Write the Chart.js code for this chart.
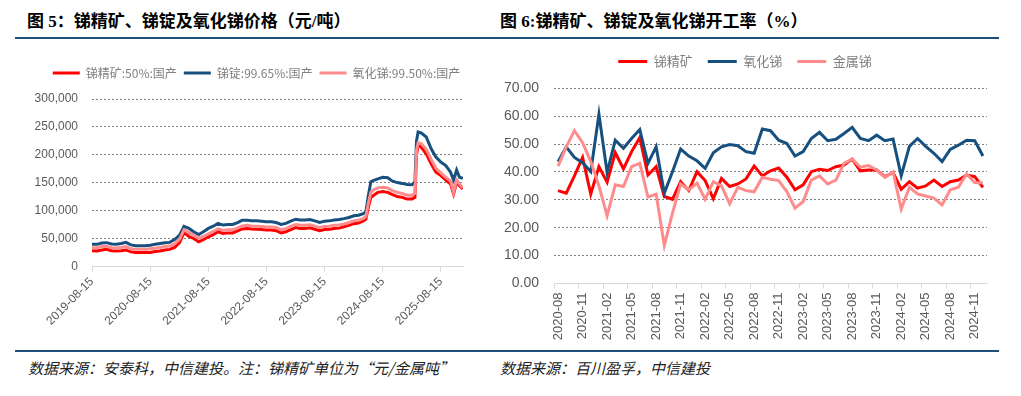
<!DOCTYPE html>
<html>
<head>
<meta charset="utf-8">
<script src="https://cdn.jsdelivr.net/npm/chart.js@4.4.1/dist/chart.umd.min.js"></script>
<style>
  body { margin: 0; width: 1021px; height: 396px; background: #fff; position: relative; overflow: hidden; font-family: "Noto Sans CJK SC", sans-serif; }
  .title { position: absolute; top: 12px; line-height: 20px; font-size: 17px; font-weight: bold; color: #000; font-family: "Liberation Serif", "Noto Sans CJK SC", serif; white-space: nowrap; }
  .rule { position: absolute; left: 15px; width: 984px; height: 2px; background: #1f4e79; }
  .src { position: absolute; top: 358px; line-height: 20px; font-size: 15px; font-style: italic; color: #222; white-space: nowrap; }
  canvas { position: absolute; top: 40px; }
</style>
</head>
<body>
<div class="title" style="left:27px">图 5：锑精矿、锑锭及氧化锑价格（元/吨）</div>
<div class="title" style="left:500px">图 6:锑精矿、锑锭及氧化锑开工率（%）</div>
<div class="rule" style="top:37px"></div>
<div class="rule" style="top:350px"></div>
<canvas id="price" width="485" height="310" style="left:0px"></canvas>
<canvas id="rate" width="515" height="310" style="left:495px"></canvas>
<div class="src" style="left:28px">数据来源：安泰科，中信建投。注：锑精矿单位为“元/金属吨”</div>
<div class="src" style="left:500px">数据来源：百川盈孚，中信建投</div>

<script>
// 图5 价格（元/吨）
const priceDates = [
  '2019-08-15','2019-09-15','2019-10-15','2019-11-15','2019-12-15','2020-01-15','2020-02-15','2020-03-15',
  '2020-04-15','2020-05-15','2020-06-15','2020-07-15','2020-08-15','2020-09-15','2020-10-15','2020-11-15',
  '2020-12-15','2021-01-15','2021-02-15','2021-03-15','2021-04-15','2021-05-15','2021-06-15','2021-07-15',
  '2021-08-15','2021-09-15','2021-10-15','2021-11-15','2021-12-15','2022-01-15','2022-02-15','2022-03-15',
  '2022-04-15','2022-05-15','2022-06-15','2022-07-15','2022-08-15','2022-09-15','2022-10-15','2022-11-15',
  '2022-12-15','2023-01-15','2023-02-15','2023-03-15','2023-04-15','2023-05-15','2023-06-15','2023-07-15',
  '2023-08-15','2023-09-15','2023-10-15','2023-11-15','2023-12-15','2024-01-15','2024-02-15','2024-03-15',
  '2024-04-15','2024-05-01','2024-05-15','2024-06-01','2024-06-15','2024-07-15','2024-08-15','2024-09-15',
  '2024-10-15','2024-11-15','2024-12-15','2025-01-15','2025-02-15','2025-03-05','2025-03-15','2025-03-25',
  '2025-04-15','2025-05-15','2025-06-15','2025-07-15','2025-08-15','2025-09-15','2025-10-15','2025-11-03',
  '2025-11-22','2025-12-10','2025-12-31'
];
const priceConc = [
  28500,28000,30000,31000,28500,28000,28500,30000,26500,25500,25500,25500,25500,27000,28000,30000,
  31000,34500,43000,61000,54000,50500,44500,48500,53500,57500,62500,59500,60500,60500,64000,67500,
  68500,67500,67000,66500,65500,65500,64500,60500,62500,66500,70000,68500,68500,69500,67000,64500,
  66500,67000,68500,69000,71500,74000,77000,78000,82000,85000,105000,124000,127000,133000,134500,133000,
  129000,125500,124000,121000,121000,124000,200000,218000,213000,202000,184000,169000,163000,155000,148000,130000,
  151000,145000,139000
];
const priceIngot = [
  40000,40000,42500,43000,40500,40000,41500,43500,39000,37500,37500,37500,38500,40000,41500,43000,
  43500,48500,56500,72000,68500,62500,57500,62500,68500,72500,77500,74500,75500,75500,79000,83000,
  83000,82000,82000,81500,80500,80500,79000,75500,77500,81500,85000,83500,83500,84500,82000,79000,
  81500,82000,83500,84500,86000,88000,91000,92000,95000,98000,125000,152000,154000,157000,160000,159000,
  153000,150500,149000,147000,146500,152000,225000,241000,239000,232000,211000,196000,187000,181000,169000,155000,
  173000,160000,158000
];
const priceOxide = [
  34000,34000,36000,36500,34000,33500,34500,36000,32000,31000,31000,31000,32000,33000,34500,36000,
  37000,41000,49000,66000,61000,56000,51000,54000,59000,63000,68000,65000,66000,66000,69500,73000,
  74000,73000,72500,72000,71000,71000,70000,66000,68000,72000,75500,74000,74000,75000,72500,70000,
  72000,72500,74000,74500,76500,79000,82000,83000,86500,90000,112000,133000,137000,141000,142000,141000,
  136000,133000,131000,128000,128000,131000,208000,222000,220000,210000,192000,176000,168000,160000,153000,133000,
  155000,148000,141000
];
const priceTickDates = ['2019-08-15','2020-08-15','2021-08-15','2022-08-15','2023-08-15','2024-08-15','2025-08-15'];

// 图6 开工率（%）
const rateMonths = [
  '2020-08','2020-09','2020-10','2020-11','2020-12','2021-01','2021-02','2021-03','2021-04','2021-05','2021-06','2021-07',
  '2021-08','2021-09','2021-10','2021-11','2021-12','2022-01','2022-02','2022-03','2022-04','2022-05','2022-06','2022-07',
  '2022-08','2022-09','2022-10','2022-11','2022-12','2023-01','2023-02','2023-03','2023-04','2023-05','2023-06','2023-07',
  '2023-08','2023-09','2023-10','2023-11','2023-12','2024-01','2024-02','2024-03','2024-04','2024-05','2024-06','2024-07',
  '2024-08','2024-09','2024-10','2024-11','2024-12'
];
const rateConc = [
  33.3,32.4,38.6,45.2,32.1,41.9,36.3,46.9,41.1,47.3,52.3,38.9,41.9,31.2,30.2,36.5,33.3,40.1,36.9,30.4,
  37.7,34.8,35.7,37.5,42.1,38.6,40.4,41.4,38.1,33.6,35.4,40.1,41.0,40.5,41.9,42.5,44.6,40.4,40.7,40.7,
  38.3,39.8,33.8,36.5,34.2,35.0,37.1,34.8,36.5,37.1,38.9,38.3,34.5
];
const rateOxide = [
  43.7,49.0,45.2,43.3,40.1,60.7,39.8,51.4,48.5,52.0,55.2,43.1,49.0,32.4,40.1,48.2,45.7,44.0,41.3,46.9,
  49.0,49.8,49.4,47.3,46.7,55.4,54.8,51.4,50.2,45.7,47.3,52.0,54.2,51.2,51.7,53.8,56.0,52.0,51.2,53.2,
  51.2,51.8,38.6,49.2,52.0,49.2,46.7,43.7,48.1,49.6,51.4,51.2,45.7
];
const rateMetal = [
  42.1,49.0,54.8,50.5,43.7,35.0,24.3,35.4,34.8,41.9,43.1,31.0,32.1,13.6,25.2,35.7,33.6,36.0,30.2,36.5,
  35.0,28.6,34.5,33.3,32.9,38.1,37.4,36.9,33.0,27.0,29.4,37.1,38.6,35.7,37.1,43.1,44.6,41.7,42.3,40.7,
  38.1,40.1,26.7,34.5,32.1,31.4,30.6,28.2,33.6,34.5,39.3,36.2,36.0
];

const RED = '#ff0000', BLUE = '#17507f', PINK = '#ff8c8c';
const TICK = '#595959', GRID = '#808080', AXIS = '#d9d9d9';

const dayNum = s => Date.parse(s + 'T00:00:00Z') / 86400000;
const pts = vals => priceDates.map((d, i) => ({ x: dayNum(d), y: vals[i] }));
const gridColor = c => (c.tick && c.tick.value === 0) ? 'rgba(0,0,0,0)' : GRID;
const byIndex = (a, b) => a.datasetIndex - b.datasetIndex;
// line style shared by dataset and its legend sample
const lineStyle = color => ({
  borderColor: color, backgroundColor: color,
  pointBorderColor: color, pointBackgroundColor: color, pointBorderWidth: 3
});

// fix legend height and move its box so the row is centred like the reference
function legendBox(h, left, right) {
  return {
    id: 'legendBox',
    beforeInit(chart) {
      const fit = chart.legend.fit;
      chart.legend.fit = function () { fit.call(this); this.height = h; };
    },
    afterLayout(chart) { chart.legend.left = left; chart.legend.right = right; }
  };
}

new Chart(document.getElementById('price'), {
  type: 'line',
  data: {
    datasets: [
      { label: '锑精矿:50%:国产', data: pts(priceConc), ...lineStyle(RED), order: 2 },
      { label: '锑锭:99.65%:国产', data: pts(priceIngot), ...lineStyle(BLUE), order: 1 },
      { label: '氧化锑:99.50%:国产', data: pts(priceOxide), ...lineStyle(PINK), order: 0 }
    ]
  },
  options: {
    responsive: false,
    animation: false,
    devicePixelRatio: 1,
    layout: { padding: { left: 0, right: 22, top: 20, bottom: 0 } },
    elements: { point: { radius: 0 }, line: { borderWidth: 3, tension: 0 } },
    plugins: {
      tooltip: { enabled: false },
      legend: {
        labels: {
          usePointStyle: true, pointStyle: 'line', pointStyleWidth: 27, padding: 7, sort: byIndex,
          color: '#808080', font: { family: 'Noto Sans CJK SC', size: 12 }
        }
      }
    },
    scales: {
      x: {
        type: 'linear',
        min: dayNum('2019-08-15'),
        max: dayNum('2026-01-01'),
        afterBuildTicks: s => { s.ticks = priceTickDates.map(d => ({ value: dayNum(d) })); },
        ticks: {
          autoSkip: false, minRotation: 45, maxRotation: 45, padding: 3,
          color: TICK, font: { family: 'Liberation Sans', size: 12 },
          callback: (v, i) => priceTickDates[i]
        },
        grid: { drawOnChartArea: false, color: AXIS, tickLength: 5 },
        border: { color: AXIS },
        afterFit: s => { s.height = 83.3; s.paddingLeft = 0; s.paddingRight = 0; }
      },
      y: {
        min: 0, max: 300000,
        ticks: { stepSize: 50000, padding: 14, color: TICK, font: { family: 'Liberation Sans', size: 12 } },
        grid: { drawTicks: false, color: gridColor },
        border: { display: false, dash: [2, 2] },
        afterFit: s => { s.width = 92; }
      }
    }
  },
  plugins: [legendBox(39, 13, 500)]
});

new Chart(document.getElementById('rate'), {
  type: 'line',
  data: {
    labels: rateMonths,
    datasets: [
      { label: '锑精矿', data: rateConc, ...lineStyle(RED), order: 2 },
      { label: '氧化锑', data: rateOxide, ...lineStyle(BLUE), order: 1 },
      { label: '金属锑', data: rateMetal, ...lineStyle(PINK), order: 0 }
    ]
  },
  options: {
    responsive: false,
    animation: false,
    devicePixelRatio: 1,
    layout: { padding: { left: 0, right: 23, top: 0, bottom: 0 } },
    elements: { point: { radius: 0 }, line: { borderWidth: 3, tension: 0 } },
    plugins: {
      tooltip: { enabled: false },
      legend: {
        labels: {
          usePointStyle: true, pointStyle: 'line', pointStyleWidth: 29, padding: 15, sort: byIndex,
          color: '#808080', font: { family: 'Noto Sans CJK SC', size: 13 }
        }
      }
    },
    scales: {
      x: {
        type: 'category',
        offset: true,
        ticks: {
          autoSkip: false, minRotation: 90, maxRotation: 90, padding: 4,
          color: TICK, font: { family: 'Liberation Sans', size: 13 },
          callback: (v, i) => (i % 3 === 0 ? rateMonths[i] : '')
        },
        grid: {
          offset: true, drawOnChartArea: false, tickLength: 5,
          color: c => (c.index % 3 === 0 ? AXIS : 'rgba(0,0,0,0)')
        },
        border: { color: AXIS },
        afterFit: s => { s.height = 66.5; s.paddingLeft = 0; s.paddingRight = 0; }
      },
      y: {
        min: 0, max: 70,
        ticks: { stepSize: 10, padding: 15, color: TICK, font: { family: 'Liberation Sans', size: 14 }, callback: v => v.toFixed(2) },
        grid: { drawTicks: false, color: gridColor },
        border: { display: false, dash: [2, 2] },
        afterFit: s => { s.width = 59; }
      }
    }
  },
  plugins: [legendBox(48.3, 0, 500)]
});
</script>
</body>
</html>
